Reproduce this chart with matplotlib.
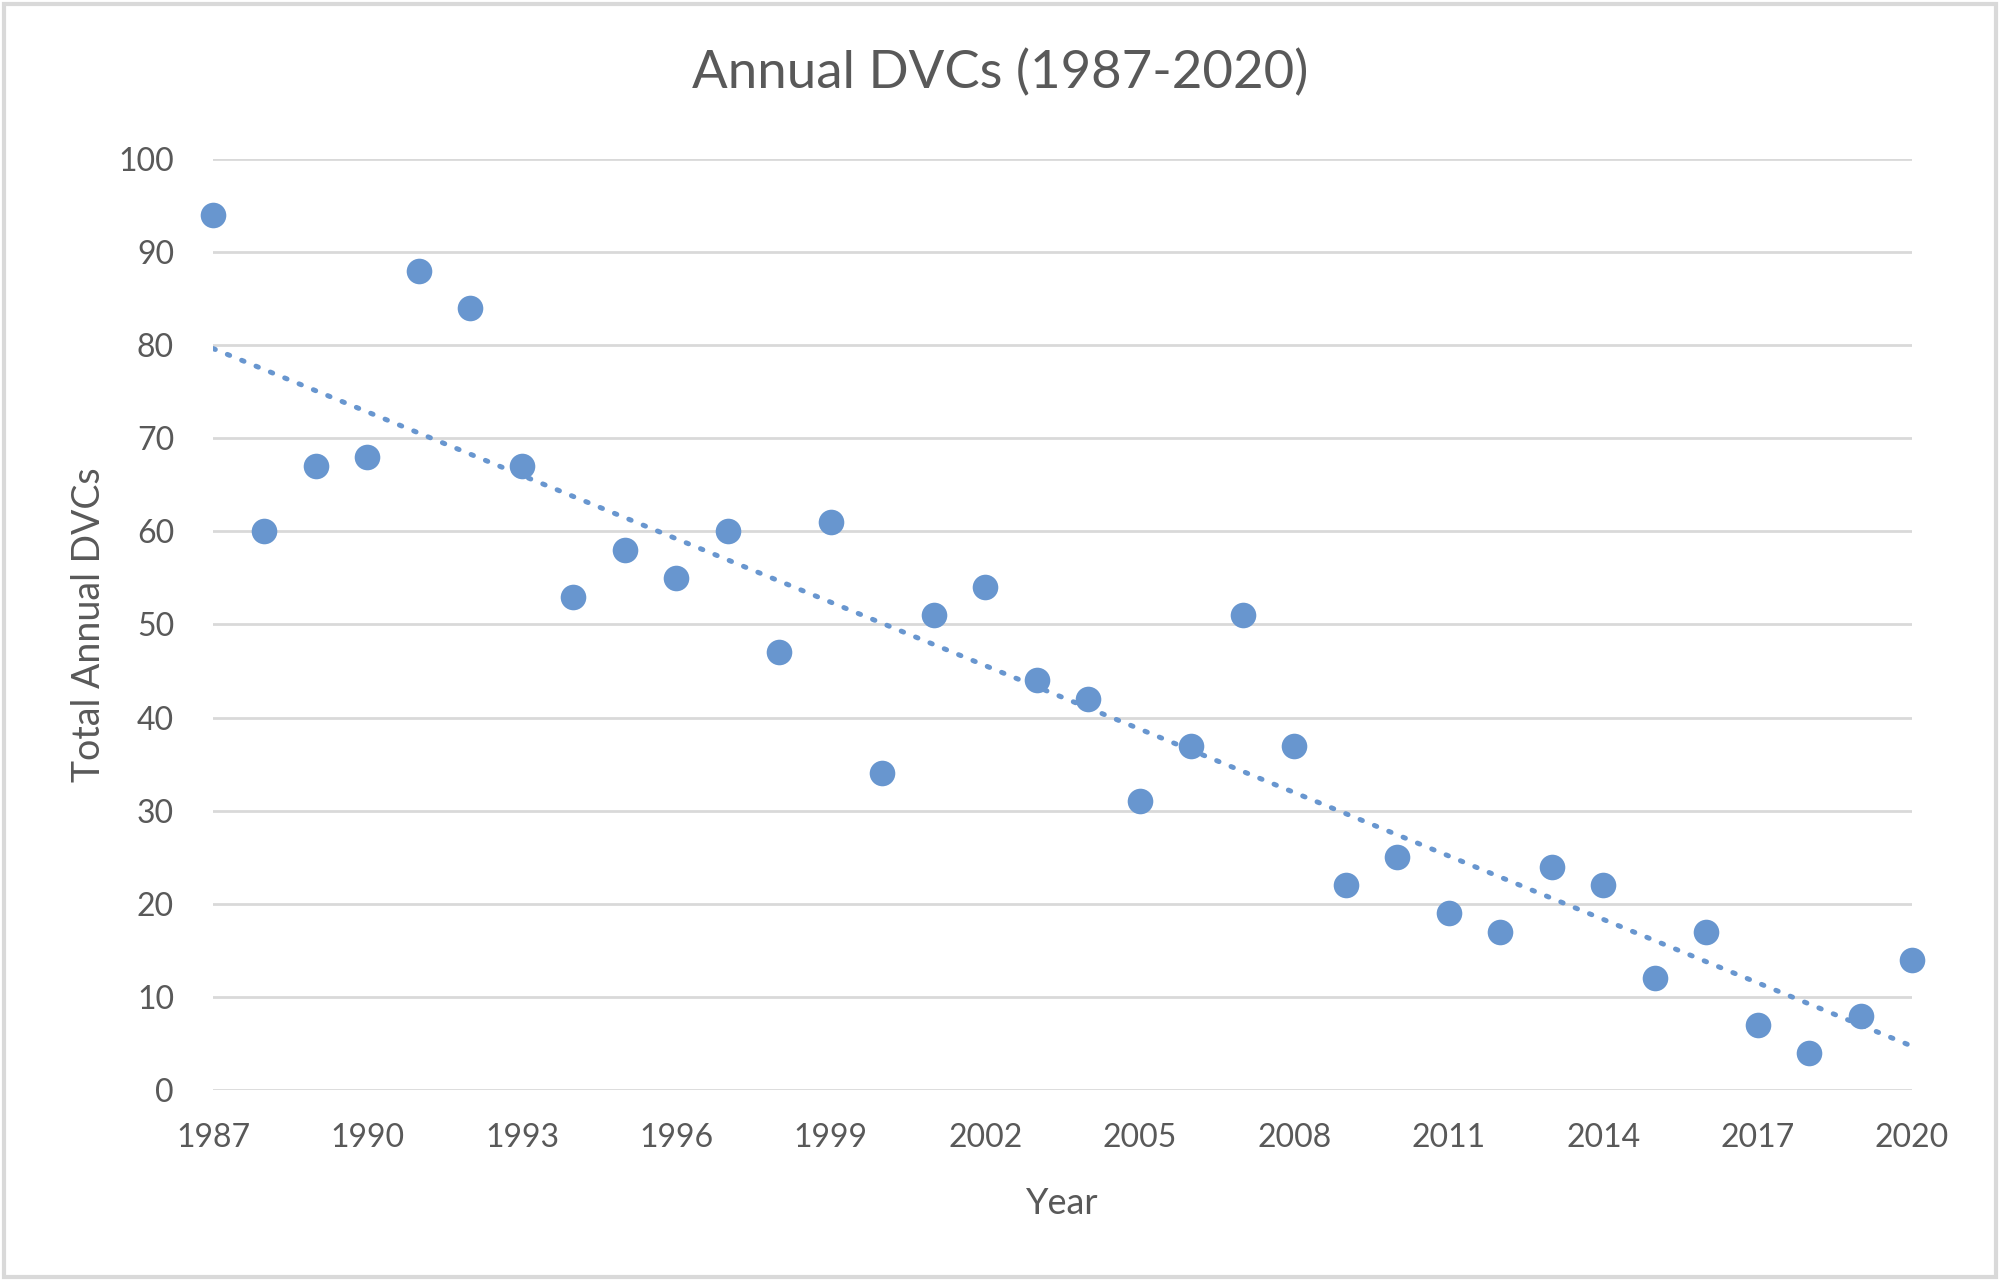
import numpy as np
import matplotlib.pyplot as plt
from matplotlib.patches import Rectangle

years = list(range(1987, 2021))
dvcs = [94, 60, 67, 68, 88, 84, 67, 53, 58, 55, 60, 47, 61, 34, 51, 54, 44, 42,
        31, 37, 51, 37, 22, 25, 19, 17, 24, 22, 12, 17, 7, 4, 8, 14]
xticks = list(range(1987, 2021, 3))
yticks = list(range(0, 101, 10))

blue = '#6896cf'
grey_text = '#595959'

plt.rcParams['font.family'] = ['Lato', 'DejaVu Sans']

fig = plt.figure(figsize=(20, 12.81), dpi=100)
ax = fig.add_axes([0.1065, 0.149, 0.8495, 0.727])

# linear trendline, like excel's
coef = np.polyfit(years, dvcs, 1)
tx = np.array([years[0], years[-1]])
ax.plot(tx, np.polyval(coef, tx), linestyle=(0, (0.5, 2.6)), color=blue,
        linewidth=3.6, dash_capstyle='round', zorder=2)

ax.scatter(years, dvcs, s=340, color=blue, zorder=3, linewidths=0, clip_on=False)

ax.set_xlim(1987, 2020)
ax.set_ylim(0, 100)
ax.set_xticks(xticks)
ax.set_yticks(yticks)
ax.grid(axis='y', color='#d9d9d9', linewidth=2)
ax.set_axisbelow(True)
for s in ax.spines.values():
    s.set_visible(False)
ax.tick_params(length=0, labelsize=23, colors=grey_text)
ax.tick_params(axis='x', pad=24)
ax.tick_params(axis='y', pad=28)

fig.text(0.5, 0.943, 'Annual DVCs (1987-2020)', fontsize=38, color=grey_text,
         ha='center', va='center')
ax.set_xlabel('Year', fontsize=26, color=grey_text, labelpad=24)
ax.set_ylabel('Total Annual DVCs', fontsize=27, color=grey_text, labelpad=8)

# light frame around the chart
fig.patches.append(Rectangle((0.002, 0.003), 0.996, 0.994, transform=fig.transFigure,
                             fill=False, edgecolor='#d9d9d9', linewidth=3))

fig.savefig('out.png', dpi=100)
